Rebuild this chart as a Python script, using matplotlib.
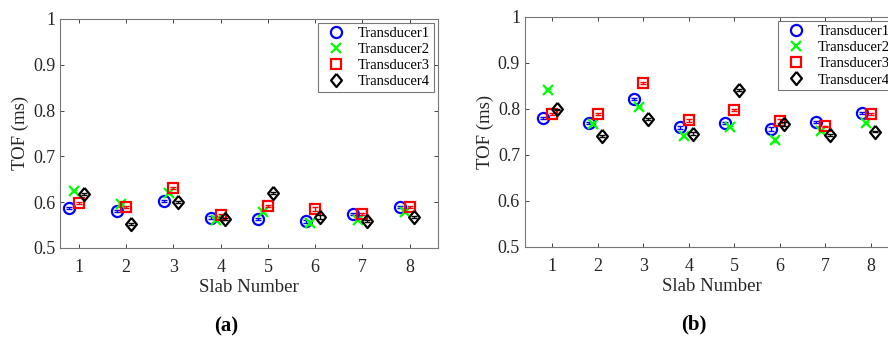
import numpy as np
import matplotlib.pyplot as plt

plt.rcParams['font.family'] = ['Liberation Serif', 'DejaVu Serif']

slabs = [1, 2, 3, 4, 5, 6, 7, 8]
names = ['Transducer1', 'Transducer2', 'Transducer3', 'Transducer4']

# panel (a)
a_t1 = [0.588, 0.581, 0.603, 0.566, 0.563, 0.558, 0.574, 0.590]
a_t2 = [0.625, 0.597, 0.619, 0.561, 0.579, 0.555, 0.561, 0.578]
a_t3 = [0.598, 0.590, 0.630, 0.571, 0.591, 0.585, 0.574, 0.590]
a_t4 = [0.618, 0.553, 0.601, 0.563, 0.620, 0.568, 0.559, 0.567]

# panel (b)
b_t1 = [0.781, 0.770, 0.822, 0.760, 0.770, 0.757, 0.771, 0.791]
b_t2 = [0.842, 0.767, 0.804, 0.742, 0.760, 0.733, 0.752, 0.769]
b_t3 = [0.790, 0.790, 0.857, 0.775, 0.797, 0.774, 0.762, 0.790]
b_t4 = [0.799, 0.741, 0.778, 0.746, 0.842, 0.767, 0.744, 0.751]

# small std errors (ms)
err = [0.002, 0.002, 0.002, 0.003, 0.002, 0.004, 0.002, 0.002]

# matlab-ish diamond, a bit taller than wide
diamond = [(0, 1), (0.82, 0), (0, -1), (-0.82, 0), (0, 1)]

offsets = [-0.2, -0.1, 0.0, 0.1]
markers = ['o', 'x', 's', diamond]
colors = ['#0000ff', '#00ff00', '#ff0000', '#000000']
msizes = [8, 7, 6.5, 9.5]

fig = plt.figure(figsize=(8.88, 3.42), dpi=100)
ax_a = fig.add_axes([0.0676, 0.2749, 0.4257, 0.670])
ax_b = fig.add_axes([0.5912, 0.2778, 0.420, 0.6725])

frame = '#262626'
for ax, series, xlo in [(ax_a, [a_t1, a_t2, a_t3, a_t4], 0.6),
                        (ax_b, [b_t1, b_t2, b_t3, b_t4], 0.4)]:
    for vals, off, m, c, ms, name in zip(series, offsets, markers, colors, msizes, names):
        x = np.array(slabs) + off
        ax.errorbar(x, vals, yerr=err, fmt='none', ecolor=c,
                    elinewidth=1.0, capsize=2.5)
        ax.plot(x, vals, ls='none', marker=m, mfc='none', mec=c,
                ms=ms, mew=1.6, label=name)
    ax.set_xlim(xlo, 8.6)
    ax.set_ylim(0.5, 1.0)
    ax.set_xticks(slabs)
    ax.set_yticks([0.5, 0.6, 0.7, 0.8, 0.9, 1.0])
    ax.set_yticklabels(['0.5', '0.6', '0.7', '0.8', '0.9', '1'])
    ax.tick_params(direction='in', top=True, right=True, labelsize=13,
                   colors=frame, length=3, width=0.6)
    ax.tick_params(axis='x', pad=8)
    for s in ax.spines.values():
        s.set_color('#777777')
        s.set_linewidth(0.8)
    ax.set_xlabel('Slab Number', fontsize=13.5, color=frame, labelpad=2)
    ax.set_ylabel('TOF (ms)', fontsize=13.5, color=frame, labelpad=3)
    leg = ax.legend(loc='upper right', fontsize=10.5,
                    frameon=True, fancybox=False, edgecolor='#555555',
                    borderaxespad=0.3, handletextpad=0.5, labelspacing=0.2,
                    borderpad=0.25, handlelength=2.0)
    leg.get_frame().set_linewidth(0.8)

fig.text(0.2545, 0.044, '(a)', ha='center', va='center', fontsize=15, fontweight='bold')
fig.text(0.7815, 0.05, '(b)', ha='center', va='center', fontsize=15, fontweight='bold')

fig.savefig('out.png', dpi=100)
